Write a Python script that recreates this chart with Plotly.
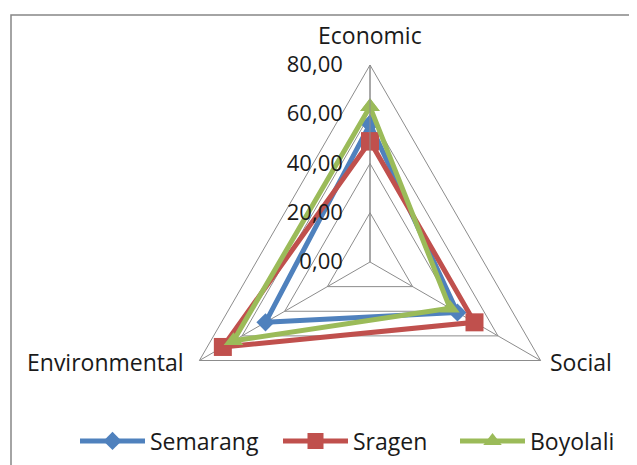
import plotly.graph_objects as go

categories = ["Economic", "Social", "Environmental"]
semarang = [56, 41, 49]
sragen = [49, 49, 69]
boyolali = [63, 37.5, 64]
series_names = ["Semarang", "Sragen", "Boyolali"]
radial_ticks = [0, 20, 40, 60, 80]

colors = ["#4F81BD", "#C0504D", "#9BBB59"]
symbols = ["diamond", "square", "triangle-up"]
sizes = [14, 18, 17]
legend_widths = [123, 97, 92]

fig = go.Figure()
for name, vals, c, s, sz, lw in zip(series_names, [semarang, sragen, boyolali], colors, symbols, sizes, legend_widths):
    fig.add_trace(go.Scatterpolar(
        r=vals + [vals[0]],
        theta=categories + [categories[0]],
        mode="lines+markers",
        name=name,
        line=dict(color=c, width=5),
        marker=dict(color=c, symbol=s, size=sz),
        legendwidth=lw,
    ))

font_family = "Open Sans, Lato, sans-serif"
txt = "#1A1A1A"
grid = "#8C8C8C"
W, H = 637, 465
off = 8  # page body margin

cx, cy, R = 370 - off, 262 - off, 197

# category labels placed around the triangle vertices (px in page coords)
label_pos = [
    (370, 35, "center"),
    (548, 362, "left"),
    (186, 362, "right"),
]
annotations = [
    dict(text=cat, xref="paper", yref="paper",
         x=(px - off) / W, y=1 - (py - off) / H,
         xanchor=anc, yanchor="middle", showarrow=False,
         font=dict(size=23, family=font_family, color=txt))
    for cat, (px, py, anc) in zip(categories, label_pos)
]

fig.update_layout(
    width=W, height=H,
    margin=dict(l=0, r=0, t=0, b=0),
    paper_bgcolor="white",
    plot_bgcolor="white",
    separators=",.",
    font=dict(family=font_family, size=20, color=txt),
    polar=dict(
        domain=dict(x=[(cx - R) / W, (cx + R) / W], y=[1 - (cy + R) / H, 1 - (cy - R) / H]),
        gridshape="linear",
        bgcolor="white",
        radialaxis=dict(
            range=[0, 80],
            tickvals=radial_ticks,
            tickformat=".2f",
            angle=90,
            tickangle=90,
            side="counterclockwise",
            showline=True,
            linecolor=grid,
            linewidth=1,
            gridcolor=grid,
            gridwidth=1,
            ticks="outside",
            ticklen=19,
            tickcolor="rgba(0,0,0,0)",
            tickfont=dict(size=22, family=font_family, color=txt),
        ),
        angularaxis=dict(
            rotation=90,
            direction="clockwise",
            showline=True,
            linecolor=grid,
            linewidth=1,
            gridcolor=grid,
            gridwidth=1,
            ticks="",
            showticklabels=False,
        ),
    ),
    annotations=annotations,
    legend=dict(
        orientation="h",
        x=(351 - off) / W, xanchor="center",
        y=1 - (441 - off) / H, yanchor="middle",
        font=dict(size=23, family=font_family, color=txt),
        itemwidth=65,
        bgcolor="rgba(0,0,0,0)",
    ),
    shapes=[dict(
        type="rect", xref="paper", yref="paper",
        x0=(11 - off) / W, x1=1.05, y0=-0.05, y1=1 - (15 - off) / H,
        line=dict(color="#868686", width=1.5),
        fillcolor="rgba(0,0,0,0)",
        layer="below",
    )],
)

fig.write_html("out.html")
